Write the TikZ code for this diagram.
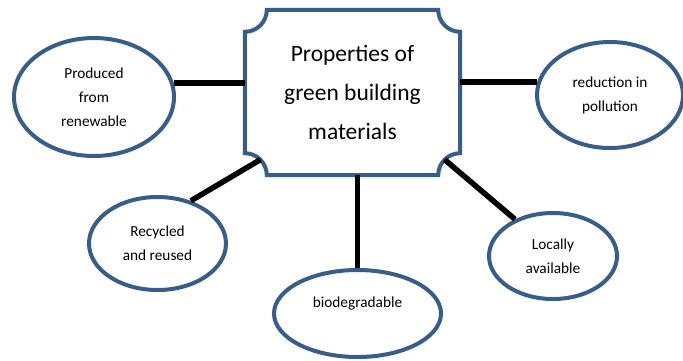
\documentclass[tikz,border=0pt]{standalone}
\usepackage{fontspec}
\setmainfont{Carlito}
\usepackage{tikz}
\usetikzlibrary{shapes}
\usetikzlibrary{positioning}
\definecolor{ovalblue}{RGB}{56,93,138}

\begin{document}
\begin{tikzpicture}[x=1pt,y=-1pt,
        prop/.style={ellipse,draw=ovalblue,line width=4pt,inner sep=0pt,align=center,font=\fontsize{15.3}{24}\selectfont},
        link/.style={line width=5.5pt}]
        \useasboundingbox (0,0) rectangle (683,360);

        \node[rectangle,minimum width=215pt,minimum height=165pt,align=center,font=\fontsize{23.5}{39}\selectfont] (props) at (352.5,92.5) {Properties of\\green building\\materials};
        \draw[ovalblue,line width=4pt] ([xshift=22pt]props.north west) -- ([xshift=-22pt]props.north east)
            arc[start angle=180,end angle=270,radius=22pt] -- ([yshift=22pt]props.south east)
            arc[start angle=90,end angle=180,radius=22pt] -- ([xshift=22pt]props.south west)
            arc[start angle=0,end angle=90,radius=22pt] -- ([yshift=-22pt]props.north west)
            arc[start angle=-90,end angle=0,radius=22pt] -- cycle;

        \node[prop,minimum width=160pt,minimum height=118pt] (prod) at (94,97) {Produced\\from\\renewable};
        \node[prop,minimum width=146pt,minimum height=106pt] (red) at (610,95) {reduction in\\pollution};
        \node[prop,minimum width=137pt,minimum height=93pt] (recyc) at (157.5,243.5) {Recycled\\and reused};
        \node[prop,minimum width=167pt,minimum height=87pt] (bio) at (357.5,313.5) {\raisebox{6pt}[0pt][0pt]{biodegradable}};
        \node[prop,minimum width=128pt,minimum height=86pt] (local) at (553,256) {Locally\\available};

        \coordinate (swbend) at ([shift={(15.6pt,15.6pt)}]props.south west);
        \coordinate (sebend) at ([shift={(-15.6pt,15.6pt)}]props.south east);
        \draw[link] (prod.10) -- (prod.10 -| props.west);
        \draw[link] (red.170) -- (red.170 -| props.east);
        \draw[link] (swbend) -- (recyc.52);
        \draw[link] (sebend) -- (local.136);
        \draw[link] (bio.north) -- (bio.north |- props.south);
    \end{tikzpicture}
\end{document}
